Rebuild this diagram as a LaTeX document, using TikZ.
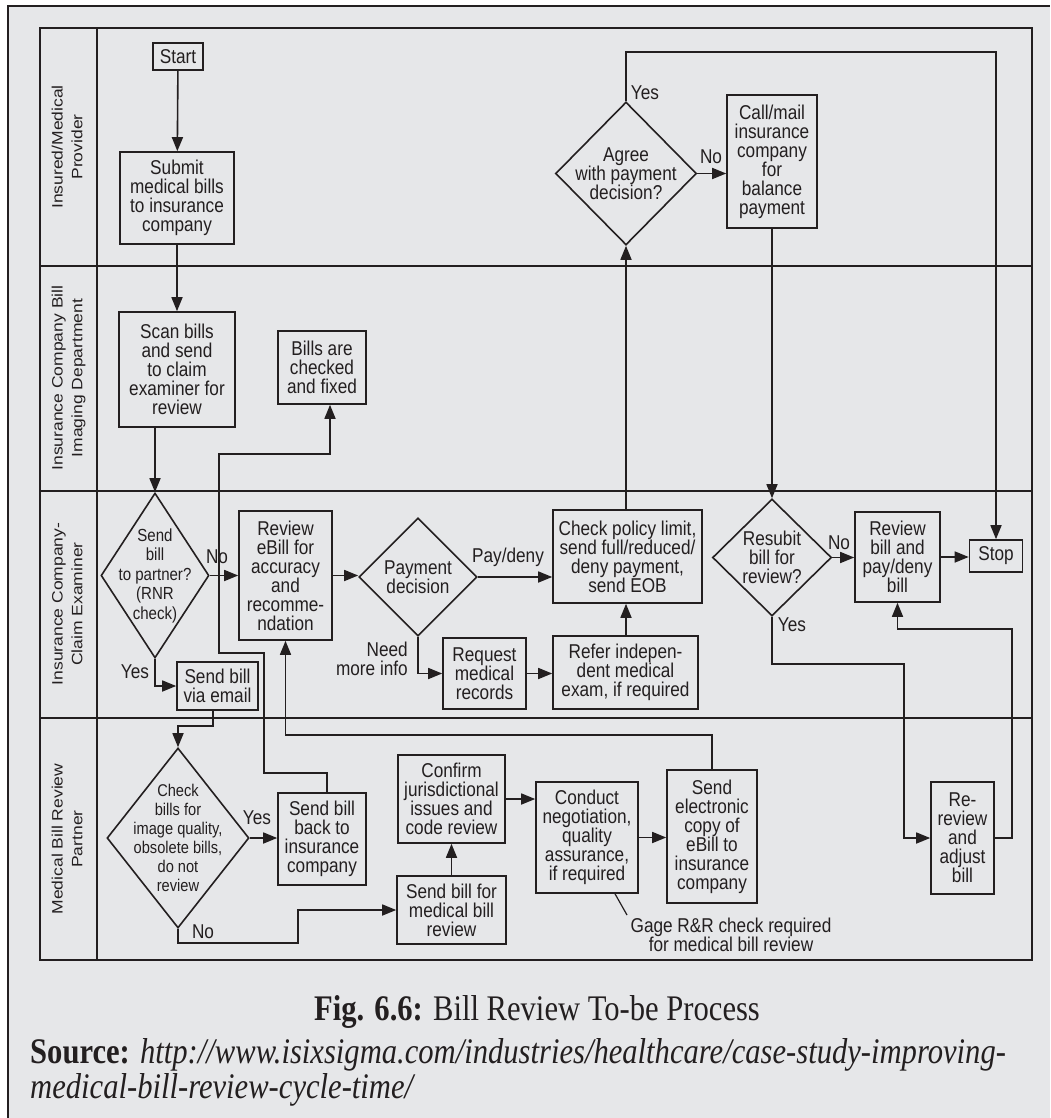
\documentclass[tikz,border=0pt]{standalone}
\usepackage{graphicx}
\usepackage{fontspec}
\setmainfont{Liberation Sans}[FakeStretch=0.86]
\newfontfamily\lanefont{Liberation Sans}
\newfontfamily\capfont{Liberation Serif}[FakeStretch=0.85]
\usetikzlibrary{arrows.meta,shapes.geometric,calc}
\definecolor{bg}{HTML}{E6E7E9}
\definecolor{ink}{HTML}{231F20}
\newcommand\diagfont{\fontsize{20}{19}\selectfont}
\newcommand\smalldiag{\fontsize{17.5}{19.5}\selectfont}
\newcommand\lanetext[1]{\scalebox{1}[0.86]{\lanefont\fontsize{17.5}{23}\selectfont\begin{tabular}{@{}c@{}}#1\end{tabular}}}
\begin{document}
\begin{tikzpicture}[x=1pt,y=-1pt,
  every node/.style={text=ink},
  box/.style={draw=ink, line width=1.6pt, rectangle, inner sep=0pt, align=center, font=\diagfont},
  dia/.style={draw=ink, line width=1.6pt, diamond, inner sep=0pt},
  txt/.style={inner sep=0pt, align=center, font=\diagfont},
  ln/.style={draw=ink, line width=1.6pt},
  arr/.style={draw=ink, line width=1.6pt, -{Triangle[length=14pt,width=11pt]}}]

% page and outer frame
\useasboundingbox (0,0) rectangle (1050,1118);
\fill[white] (0,0) rectangle (1050,1118);
\fill[bg] (8,6) rectangle (1050,1118);
\draw[ink, line width=1.2pt] (8,1118) -- (8,6) -- (1050,6);

% swimlane grid
\draw[ln] (40,28) rectangle (1032,960);
\draw[ln] (97,28) -- (97,960);
\draw[ln] (40,266) -- (1032,266);
\draw[ln] (40,491) -- (1032,491);
\draw[ln] (40,718) -- (1032,718);

% lane titles
\node[rotate=90] (lane1) at (68.5,147) {\lanetext{Insured/Medical\\Provider}};
\node[rotate=90] (lane2) at (68.5,378) {\lanetext{Insurance Company Bill\\Imaging Department}};
\node[rotate=90] (lane3) at (68.5,604) {\lanetext{Insurance Company-\\Claim Examiner}};
\node[rotate=90] (lane4) at (68.5,839) {\lanetext{Medical Bill Review\\Partner}};

% insured / provider lane
\node[box, minimum width=50pt, minimum height=27pt] (start) at (178,56.5) {Start};
\node[box, minimum width=114pt, minimum height=92pt] (submit) at (177,198) {Submit\\medical bills\\to insurance\\company};
\node[dia, minimum width=141pt, minimum height=143pt,
  label={[txt]center:Agree\\with payment\\decision?}] (agree) at (626,173.5) {};
\node[box, minimum width=90pt, minimum height=133pt] (callmail) at (772,161.5) {Call/mail\\insurance\\company\\for\\balance\\payment};

% imaging department lane
\node[box, minimum width=116pt, minimum height=115pt] (scan) at (177,369.5) {Scan bills\\and send\\to claim\\examiner for\\review};
\node[box, minimum width=88pt, minimum height=73pt] (checked) at (322,367.5) {Bills are\\checked\\and fixed};

% claim examiner lane
\node[dia, minimum width=108pt, minimum height=165pt,
  label={[txt, font=\smalldiag]center:Send\\bill\\to partner?\\(RNR\\check)}] (dsend) at (155,575.5) {};
\node[box, minimum width=93pt, minimum height=129pt] (review) at (285.5,575.5) {Review\\eBill for\\accuracy\\and\\recomme-\\ndation};
\node[dia, minimum width=118pt, minimum height=118pt,
  label={[txt]center:Payment\\decision}] (payment) at (418,577) {};
\node[box, minimum width=149pt, minimum height=93pt] (policy) at (627.5,556.5) {Check policy limit,\\send full/reduced/\\deny payment,\\send EOB};
\node[box, minimum width=83pt, minimum height=71pt] (request) at (484.5,673.5) {Request\\medical\\records};
\node[box, minimum width=145pt, minimum height=73pt] (refer) at (625.5,672.5) {Refer indepen-\\dent medical\\exam, if required};
\node[box, minimum width=81pt, minimum height=48pt] (email) at (217.5,686) {Send bill\\via email};
\node[dia, minimum width=119pt, minimum height=117pt,
  label={[txt]center:Resubit\\bill for\\review?}] (resubit) at (772,557.5) {};
\node[box, minimum width=85pt, minimum height=90pt] (reviewbill) at (897.5,557) {Review\\bill and\\pay/deny\\bill};
\node[box, minimum width=53pt, minimum height=32pt] (stop) at (996,556) {Stop};

% review partner lane
\node[dia, minimum width=142pt, minimum height=180pt,
  label={[txt, font=\fontsize{17}{19}\selectfont]center:Check\\bills for\\image quality,\\obsolete bills,\\do not\\review}] (dcheck) at (178,838) {};
\node[box, minimum width=88pt, minimum height=92pt] (sendback) at (322,839) {Send bill\\back to\\insurance\\company};
\node[box, minimum width=109pt, minimum height=68pt] (sendmbr) at (451.5,910) {Send bill for\\medical bill\\review};
\node[box, minimum width=107pt, minimum height=88pt] (confirm) at (451.5,799) {Confirm\\jurisdictional\\issues and\\code review};
\node[box, minimum width=102pt, minimum height=111pt] (conduct) at (587,837.5) {Conduct\\negotiation,\\quality\\assurance,\\if required};
\node[box, minimum width=90pt, minimum height=133pt] (electronic) at (712,836.5) {Send\\electronic\\copy of\\eBill to\\insurance\\company};
\node[box, minimum width=63pt, minimum height=112pt] (rereview) at (962.5,838) {Re-\\review\\and\\adjust\\bill};
\node[txt] (gage) at (731,935) {Gage R\&R check required\\for medical bill review};

% flow
\draw[arr] (start) -- (submit);
\draw[arr] (submit) -- (scan);
\draw[arr] (scan.south -| dsend.north) -- (dsend.north);
\draw[arr] (dsend.east) -- (dsend.east -| review.west);
\draw[arr] (dsend.south) |- (email.west);
\draw[arr] (review.east) -- (review.east -| payment.west);
\draw[arr] (payment.east) -- (payment.east -| policy.west);
\draw[arr] (payment.south) |- (request.west);
\draw[arr] (request.east) -- (request.east -| refer.west);
\draw[arr] (refer.north -| agree.south) -- (policy.south -| agree.south);
\draw[arr] (policy.north -| agree.south) -- (agree.south);
\draw[arr] (agree.east) -- (agree.east -| callmail.west);
\draw[arr] (agree.north) -- ++(0,-49) -| (stop.north);
\draw[arr] (callmail.south) -- (resubit.north);
\draw[arr] (resubit.east) -- (resubit.east -| reviewbill.west);
\draw[arr] (reviewbill.east) -- (reviewbill.east -| stop.west);
\coordinate (rsbend) at (904,664);
\draw[arr] (resubit.south) |- (rsbend) |- (rereview.west);
\coordinate (rrbend) at (1012,629);
\draw[arr] (rereview.east) -| (rrbend) -| (reviewbill.south);
\draw[arr] ([xshift=-4.5pt]email.south) -- ++(0,15) -| (dcheck.north);
\draw[arr] (dcheck.east) -- (dcheck.east -| sendback.west);
\coordinate (sb1) at (264,653);
\coordinate (sb2) at (219,454);
\draw[arr] ([xshift=5pt]sendback.north) -- ++(0,-19) -| (sb1) -| (sb2) -| ([xshift=8pt]checked.south);
\coordinate (nobend) at (298,943);
\draw[arr] (dcheck.south) |- (nobend) |- (sendmbr.west);
\draw[arr] (sendmbr) -- (confirm);
\draw[arr] (confirm.east) -- (confirm.east -| conduct.west);
\draw[arr] (conduct.east) -- (conduct.east -| electronic.west);
\draw[arr] (electronic.north) -- ++(0,-34) -| (review.south);
\draw[ln, line width=1.2pt] ([xshift=28pt]conduct.south) -- (627,915);

% branch labels
\node[txt] (l1) at (217,557) {No};
\node[txt] (l2) at (135,672) {Yes};
\node[txt] (l3) at (508,557) {Pay/deny};
\node[txt, anchor=east, align=right] (l4) at (408,659) {Need\\more info};
\node[txt] (l5) at (711,157) {No};
\node[txt] (l6) at (645,93) {Yes};
\node[txt] (l7) at (839,543) {No};
\node[txt] (l8) at (792,625) {Yes};
\node[txt] (l9) at (257,818) {Yes};
\node[txt] (l10) at (203,932) {No};

% caption and source
\node[anchor=base, inner sep=0pt, font=\capfont\fontsize{36}{40}\selectfont] (cap) at (537,1020) {\textbf{Fig. 6.6:} Bill Review To-be Process};
\node[anchor=base west, inner sep=0pt, font=\capfont\fontsize{36}{38}\selectfont] (src1) at (30,1063) {\textbf{Source:} \textit{http://www.isixsigma.com/industries/healthcare/case-study-improving-}};
\node[anchor=base west, inner sep=0pt, font=\capfont\fontsize{36}{38}\selectfont] (src2) at (30,1098) {\textit{medical-bill-review-cycle-time/}};
\end{tikzpicture}
\end{document}
